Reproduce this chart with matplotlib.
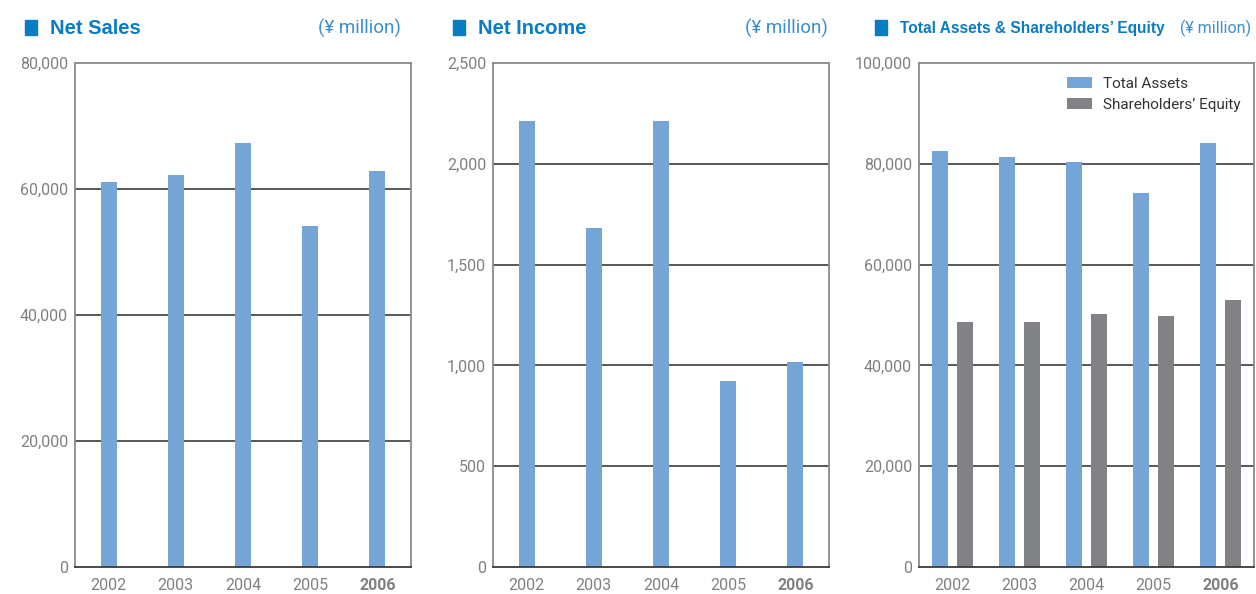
import matplotlib
matplotlib.use("Agg")
import matplotlib.pyplot as plt
from matplotlib.patches import Rectangle

years = ["2002", "2003", "2004", "2005", "2006"]
net_sales = [61100, 62200, 67300, 54100, 62900]
net_income = [2210, 1680, 2210, 923, 1017]
total_assets = [82500, 81300, 80400, 74200, 84100]
equity = [48600, 48600, 50200, 49900, 53000]

plt.rcParams['font.family'] = ['Roboto', 'DejaVu Sans']

BLUE = "#74a5d6"
GRAY = "#808285"
TITLE = "#0a7cc4"
UNIT = "#3a8fd0"
TICK = "#808080"

W, H = 1256, 594
fig = plt.figure(figsize=(W / 100, H / 100), dpi=100)


def make_axes(left_px, width_px):
    return fig.add_axes([left_px / W, (H - 567) / H, width_px / W, 504 / H])


def style(ax, ymax, step, fmt):
    ax.set_xlim(-0.5, 4.5)
    ax.set_ylim(0, ymax)
    ticks = list(range(0, ymax + 1, step))
    ax.set_yticks(ticks)
    ax.set_yticklabels([fmt(t) for t in ticks])
    for t in ticks[1:-1]:
        ax.axhline(t, color="#4a4a4a", lw=1.3, zorder=1)
    ax.set_xticks(range(len(years)))
    ax.set_xticklabels(years)
    for lab in ax.get_xticklabels():
        lab.set_color("#4a4a4a" if lab.get_text() == "2006" else TICK)
        if lab.get_text() == "2006":
            lab.set_fontweight("bold")
    ax.tick_params(axis="both", length=0, labelsize=11.5, colors=TICK)
    ax.tick_params(axis="y", pad=5)
    ax.tick_params(axis="x", pad=8)
    for s in ["left", "top", "right"]:
        ax.spines[s].set_color("#8a8a8a")
        ax.spines[s].set_linewidth(1.3)
    ax.spines["bottom"].set_color("#3a3a3a")
    ax.spines["bottom"].set_linewidth(1.3)


def title(x0, x1, text, size=14.5, usize=13.5):
    fig.patches.append(Rectangle((x0 / W, (H - 35) / H), 12 / W, 15 / H,
                                 transform=fig.transFigure, color=TITLE))
    fig.text((x0 + 25) / W, (H - 28) / H, text, color=TITLE, fontsize=size,
             fontweight="bold", va="center", ha="left",
             family=['Liberation Sans', 'DejaVu Sans'])
    fig.text(x1 / W, (H - 28) / H, "(¥ million)", color=UNIT, fontsize=usize,
             va="center", ha="right")


x = list(range(len(years)))
fmt_int = lambda v: f"{v:,}"

ax1 = make_axes(75, 336)
ax1.bar(x, net_sales, width=0.24, color=BLUE, zorder=2)
style(ax1, 80000, 20000, fmt_int)
title(25, 401, "Net Sales")

ax2 = make_axes(493, 336)
ax2.bar(x, net_income, width=0.24, color=BLUE, zorder=2)
style(ax2, 2500, 500, fmt_int)
title(453, 828, "Net Income")

ax3 = make_axes(919, 335)
ax3.bar([i - 0.18 for i in x], total_assets, width=0.24, color=BLUE, zorder=2,
        label="Total Assets")
ax3.bar([i + 0.18 for i in x], equity, width=0.24, color=GRAY, zorder=2,
        label="Shareholders\u2019 Equity")
style(ax3, 100000, 20000, fmt_int)
title(875, 1251, "Total Assets & Shareholders\u2019 Equity", size=11.2, usize=11.5)
leg = ax3.legend(loc="upper left", bbox_to_anchor=(0.425, 0.984), frameon=False,
                 fontsize=11, handlelength=1.6, handleheight=0.7,
                 labelspacing=0.45, handletextpad=0.75, borderaxespad=0.0)
for t in leg.get_texts():
    t.set_color("#333333")

fig.savefig("out.png", dpi=100)
